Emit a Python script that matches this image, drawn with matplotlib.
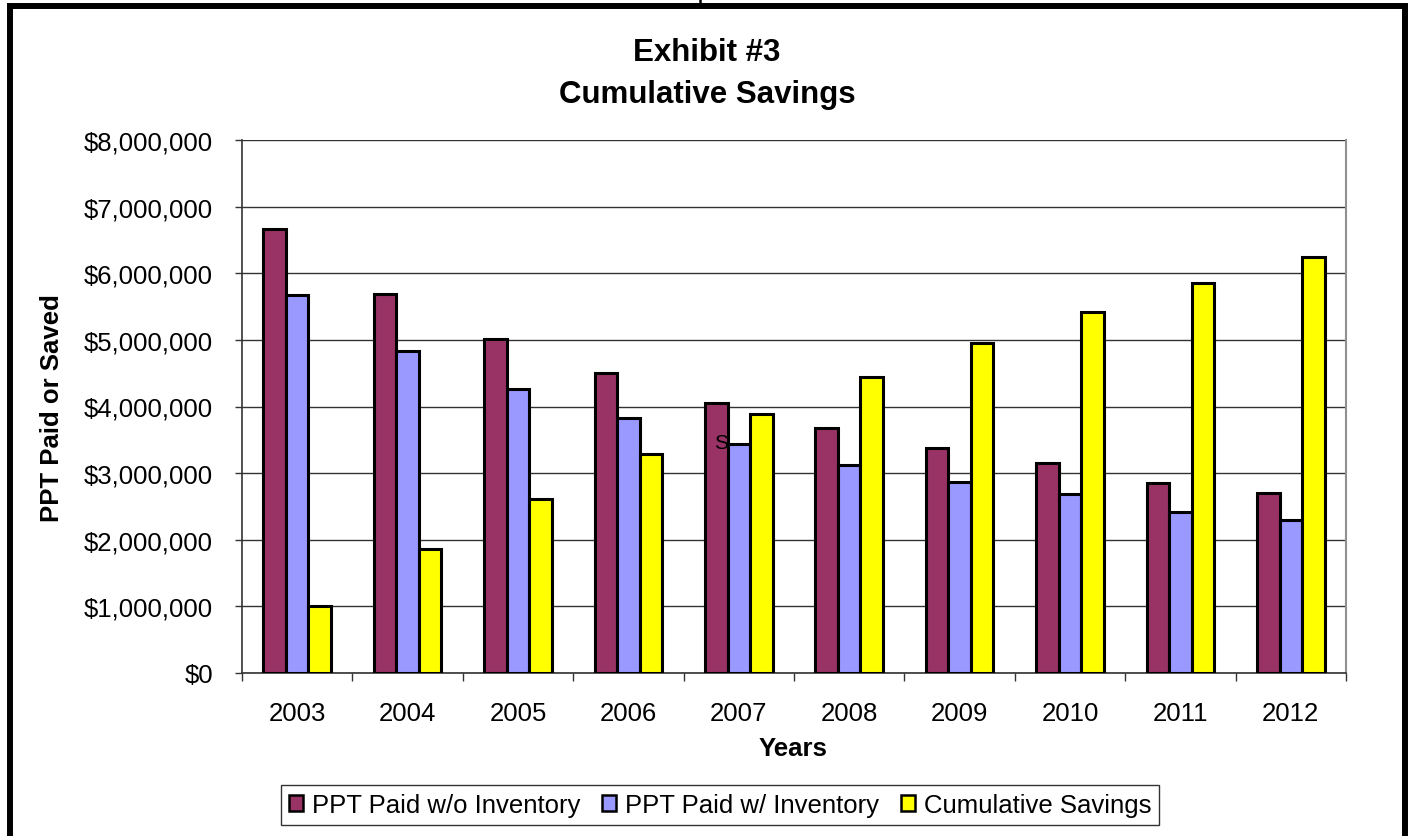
import matplotlib
matplotlib.use('Agg')
import matplotlib.pyplot as plt
from matplotlib.patches import Patch
from matplotlib.lines import Line2D
from matplotlib.ticker import FuncFormatter, FixedLocator
import numpy as np

plt.rcParams['font.family'] = ['Liberation Sans', 'DejaVu Sans']

years = ['2003', '2004', '2005', '2006', '2007', '2008', '2009', '2010', '2011', '2012']
paid_without = [6670000, 5690000, 5020000, 4500000, 4050000, 3670000, 3370000, 3150000, 2850000, 2700000]
paid_with = [5670000, 4840000, 4270000, 3820000, 3430000, 3120000, 2860000, 2680000, 2420000, 2290000]
cum_savings = [1000000, 1860000, 2610000, 3280000, 3890000, 4440000, 4950000, 5420000, 5850000, 6250000]

series_names = ['PPT Paid w/o Inventory', 'PPT Paid w/ Inventory', 'Cumulative Savings']
colors = ['#993366', '#9999FF', '#FFFF00']

W, H = 1410, 837
fig = plt.figure(figsize=(W / 100, H / 100), dpi=100)
ax = fig.add_axes([242 / W, 1 - 674 / H, (1346 - 242) / W, (674 - 141) / H])

x = np.arange(len(years))
bw = 0.204
for i, vals in enumerate([paid_without, paid_with, cum_savings]):
    ax.bar(x + (i - 1) * bw, vals, width=bw, color=colors[i], edgecolor='black',
           linewidth=2.2, zorder=3)

ax.set_xlim(-0.5, len(years) - 0.5)
ax.set_ylim(0, 8000000)
ax.set_yticks(np.arange(0, 8000001, 1000000))
ax.yaxis.set_major_formatter(FuncFormatter(lambda v, p: '${:,.0f}'.format(v)))
ax.grid(axis='y', color='#333333', linewidth=1.0, zorder=1)

ax.set_xticks(x)
ax.set_xticklabels(years)
ax.xaxis.set_minor_locator(FixedLocator(np.arange(-0.5, len(years), 1.0)))
ax.tick_params(axis='x', which='major', length=0, pad=20, labelsize=18.5)
ax.tick_params(axis='x', which='minor', length=6, width=1.0, color='#333333', direction='out')
ax.tick_params(axis='y', length=5, width=1.0, color='#333333', direction='out', pad=16, labelsize=18.5)

for s in ['left', 'bottom']:
    ax.spines[s].set_color('#333333')
    ax.spines[s].set_linewidth(1.2)
ax.spines['right'].set_color('#909090')
ax.spines['right'].set_linewidth(1.5)
ax.spines['top'].set_visible(False)

# stray label left in the original sheet
ax.text(4 - 0.16, 3460000, 'S', fontsize=15, ha='center', va='center', zorder=5)

fig.text(707 / W, 1 - 53 / H, 'Exhibit #3', ha='center', va='center', fontsize=22.5, fontweight='bold')
fig.text(707 / W, 1 - 95 / H, 'Cumulative Savings', ha='center', va='center', fontsize=22.5, fontweight='bold')
fig.text(793 / W, 1 - 749 / H, 'Years', ha='center', va='center', fontsize=18.5, fontweight='bold')
fig.text(52 / W, 1 - 408 / H, 'PPT Paid or Saved', ha='center', va='center', rotation=90,
         fontsize=18.5, fontweight='bold')

handles = [Patch(facecolor=c, edgecolor='black', linewidth=1.8) for c in colors]
leg = fig.legend(handles, series_names, loc='center', bbox_to_anchor=(720 / W, 1 - 806 / H),
                 ncol=3, fontsize=18.5, frameon=True, fancybox=False, handlelength=0.55,
                 handleheight=0.55, handletextpad=0.35, columnspacing=0.85, borderpad=0.3,
                 borderaxespad=0)
leg.get_frame().set_edgecolor('black')
leg.get_frame().set_linewidth(1.0)

# thick outer frame (bottom edge falls outside the picture)
fig.add_artist(Line2D([10 / W, 10 / W, 1404.5 / W, 1404.5 / W],
                      [-10 / H, 1 - 6.5 / H, 1 - 6.5 / H, -10 / H],
                      transform=fig.transFigure, color='black', linewidth=4.3,
                      solid_joinstyle='miter'))
fig.add_artist(Line2D([700 / W, 700 / W], [1 - 5 / H, 1.0], transform=fig.transFigure,
                      color='black', linewidth=1.8))

fig.savefig('out.png', dpi=100)
plt.close(fig)
